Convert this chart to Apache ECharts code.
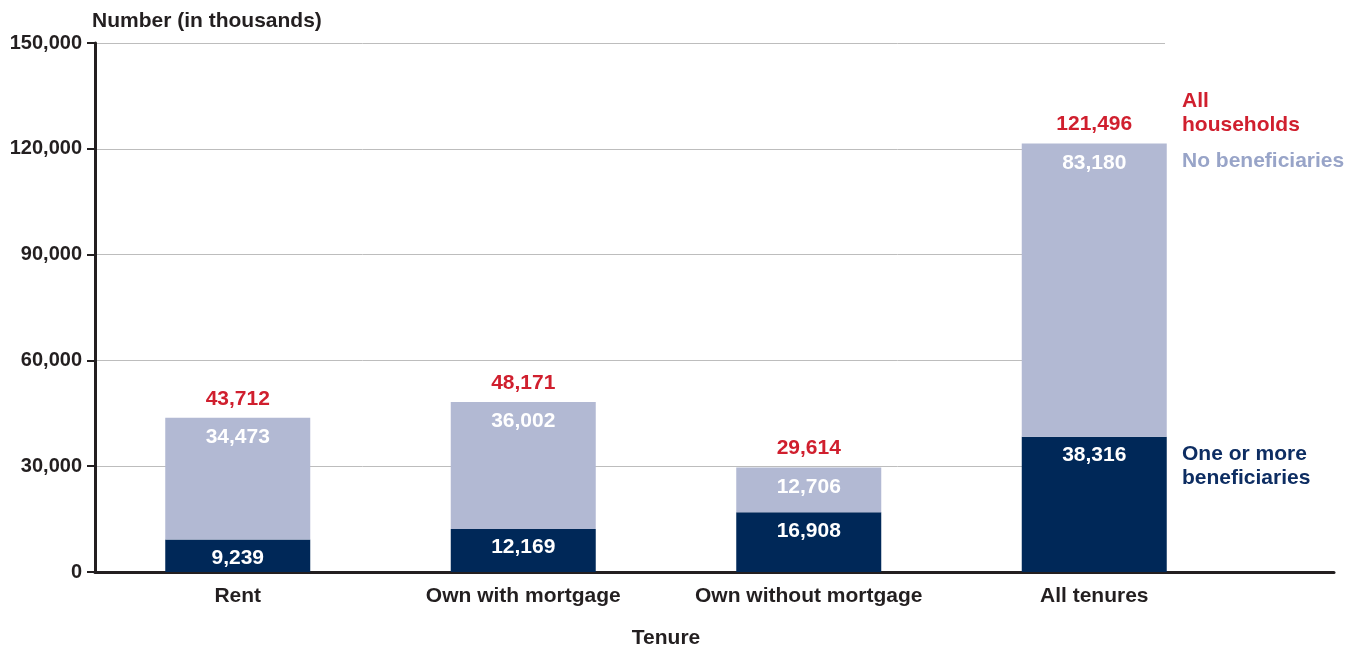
<!DOCTYPE html>
<html>
<head>
<meta charset="utf-8">
<script src="https://cdn.jsdelivr.net/npm/echarts@6/dist/echarts.min.js"></script>
<style>
  html, body { margin: 0; padding: 0; background: #fff; }
  #chart { width: 1357px; height: 645px; }
</style>
</head>
<body>
<div id="chart"></div>
<script>
// Households by tenure, split by whether anyone in the household is a beneficiary
const categories = ['Rent', 'Own with mortgage', 'Own without mortgage', 'All tenures'];
const oneOrMore = [9239, 12169, 16908, 38316];
const noBeneficiaries = [34473, 36002, 12706, 83180];
const allHouseholds = [43712, 48171, 29614, 121496];
const yTicks = [0, 30000, 60000, 90000, 120000, 150000];

const FONT = '"Liberation Sans", Arial, sans-serif';
const INK = '#231f20';
const NAVY = '#002858';
const LIGHT = '#b2b9d3';
const RED = '#d01f2e';

const yMin = yTicks[0];
const yMax = yTicks[yTicks.length - 1];
const yStep = yTicks[1] - yTicks[0];

const fmt = v => v.toLocaleString('en-US');

const chart = echarts.init(document.getElementById('chart'), null, { renderer: 'canvas' });

const gridTop = 43, gridBottom = 73;
const gridBase = { top: gridTop, bottom: gridBottom, containLabel: false, outerBoundsMode: 'none' };

chart.setOption({
  animation: false,
  backgroundColor: '#fff',
  textStyle: { fontFamily: FONT },
  grid: [
    // bars
    Object.assign({ left: 95, right: 120 }, gridBase),
    // horizontal gridlines
    Object.assign({ left: 95, right: 192 }, gridBase),
    // baseline
    Object.assign({ left: 95, right: 23 }, gridBase)
  ],
  xAxis: [
    {
      type: 'category', gridIndex: 0, data: categories,
      axisLine: { show: false }, axisTick: { show: false },
      axisLabel: { interval: 0, hideOverlap: false, color: INK, fontWeight: 'bold', fontSize: 21, fontFamily: FONT, margin: 14 },
      name: 'Tenure', nameLocation: 'middle', nameGap: 56,
      nameTextStyle: { color: INK, fontWeight: 'bold', fontSize: 21, fontFamily: FONT }
    },
    { type: 'value', gridIndex: 1, show: false, min: 0, max: 1 },
    {
      type: 'value', gridIndex: 2, min: 0, max: 1,
      axisLine: { show: true, onZero: false, lineStyle: { color: INK, width: 3 } },
      axisTick: { show: false }, axisLabel: { show: false }, splitLine: { show: false }
    }
  ],
  yAxis: [
    {
      type: 'value', gridIndex: 0, min: yMin, max: yMax, interval: yStep,
      axisLine: { show: true, lineStyle: { color: INK, width: 3 } },
      axisTick: { show: true, length: 8, lineStyle: { color: INK, width: 2 } },
      axisLabel: { color: INK, fontWeight: 'bold', fontSize: 20, fontFamily: FONT, margin: 13, padding: [3, 0, 0, 0], formatter: v => fmt(v) },
      splitLine: { show: false },
      name: 'Number (in thousands)', nameLocation: 'end', nameGap: 11,
      nameTextStyle: { color: INK, fontWeight: 'bold', fontSize: 21, fontFamily: FONT, align: 'left', padding: [0, 0, 0, -3] }
    },
    {
      type: 'value', gridIndex: 1, min: yMin, max: yMax, interval: yStep,
      axisLine: { show: false }, axisTick: { show: false }, axisLabel: { show: false },
      splitLine: { show: true, lineStyle: { color: '#bdbdbd', width: 1 } }
    },
    { type: 'value', gridIndex: 2, show: false, min: yMin, max: yMax }
  ],
  series: [
    {
      name: 'One or more beneficiaries', type: 'bar', stack: 'hh',
      xAxisIndex: 0, yAxisIndex: 0, barWidth: 145,
      itemStyle: { color: NAVY },
      label: {
        show: true, position: 'insideTop', distance: 8,
        color: '#fff', fontWeight: 'bold', fontSize: 21, fontFamily: FONT,
        formatter: p => fmt(p.value)
      },
      data: oneOrMore, z: 3
    },
    {
      name: 'No beneficiaries', type: 'bar', stack: 'hh',
      xAxisIndex: 0, yAxisIndex: 0, barWidth: 145,
      itemStyle: { color: LIGHT },
      label: {
        show: true, position: 'insideTop', distance: 9,
        color: '#fff', fontWeight: 'bold', fontSize: 21, fontFamily: FONT,
        formatter: p => fmt(p.value)
      },
      data: noBeneficiaries, z: 3
    },
    {
      // household totals, shown as labels just above each stacked column
      name: 'All households', type: 'scatter',
      xAxisIndex: 0, yAxisIndex: 0, symbol: 'circle', symbolSize: 1,
      itemStyle: { color: 'rgba(0,0,0,0)', opacity: 1 },
      label: {
        show: true, position: 'top', distance: 8, opacity: 1,
        color: RED, fontWeight: 'bold', fontSize: 21, fontFamily: FONT,
        formatter: p => fmt(p.value)
      },
      labelLayout: { hideOverlap: false },
      data: allHouseholds, z: 4
    }
  ],
  graphic: [
    {
      type: 'text', left: 1182, top: 89, z: 10,
      style: { text: 'All\nhouseholds', fill: RED, font: 'bold 21px ' + FONT, lineHeight: 24 }
    },
    {
      type: 'text', left: 1182, top: 149, z: 10,
      style: { text: 'No beneficiaries', fill: '#98a4c8', font: 'bold 21px ' + FONT, lineHeight: 24 }
    },
    {
      type: 'text', left: 1182, top: 442, z: 10,
      style: { text: 'One or more\nbeneficiaries', fill: '#0d2d62', font: 'bold 21px ' + FONT, lineHeight: 24 }
    }
  ]
});
</script>
</body>
</html>
